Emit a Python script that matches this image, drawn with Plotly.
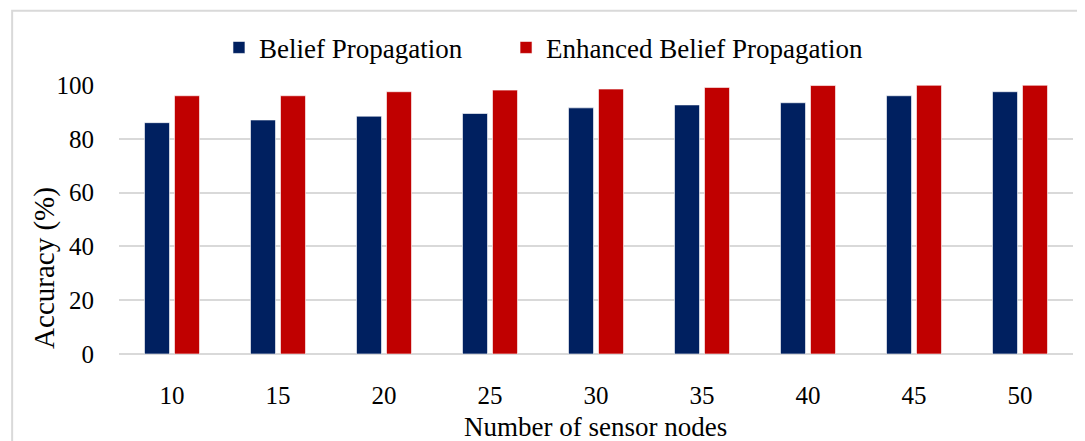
import plotly.graph_objects as go

categories = ["10", "15", "20", "25", "30", "35", "40", "45", "50"]
bp_values = [86, 87, 88.4, 89.4, 91.5, 92.6, 93.4, 96, 97.5]
ebp_values = [96, 96, 97.5, 98.1, 98.5, 99.1, 99.8, 99.9, 99.9]
series_names = ["Belief Propagation", "Enhanced Belief Propagation"]
colors = ["#002060", "#C00000"]
y_ticks = [0, 20, 40, 60, 80, 100]

font_family = "Liberation Serif, Times New Roman, serif"

fig = go.Figure()
for name, vals, col, lg in zip(series_names, [bp_values, ebp_values], colors, ["legend", "legend2"]):
    fig.add_trace(go.Bar(
        x=categories, y=vals, name=name, legend=lg,
        marker=dict(color=col, line=dict(color="rgba(255,255,255,0.6)", width=1)),
    ))

legend_common = dict(orientation="h", xanchor="left", y=1.138, yanchor="middle",
                     font=dict(size=27), itemwidth=30, bgcolor="rgba(0,0,0,0)")

# page body has an 8px margin, so the figure is sized/offset to compensate
fig.update_layout(
    width=1077, height=433,
    margin=dict(l=111, r=12, t=77, b=87),
    paper_bgcolor="white", plot_bgcolor="white",
    barmode="group", bargap=0.434, bargroupgap=0.167,
    font=dict(family=font_family, size=26, color="#000000"),
    showlegend=True,
    legend=dict(x=0.1048, **legend_common),
    legend2=dict(x=0.4057, **legend_common),
    xaxis=dict(type="category", showgrid=False, showline=False, ticks="",
               ticklabelstandoff=24, tickfont=dict(size=25)),
    yaxis=dict(range=[0, 100], tickvals=y_ticks, showgrid=True, gridcolor="#d9d9d9",
               gridwidth=1.5, zeroline=True, zerolinecolor="#d9d9d9", zerolinewidth=1.5,
               showline=False, ticks="", ticklabelstandoff=24, tickfont=dict(size=25)),
    shapes=[dict(type="rect", xref="paper", yref="paper", x0=-0.112, x1=1.05,
                 y0=-0.4, y1=1.276, line=dict(color="#d9d9d9", width=2),
                 fillcolor="rgba(0,0,0,0)", layer="below")],
    annotations=[
        dict(text="Accuracy (%)", xref="paper", yref="paper", x=-0.0776, y=0.32,
             textangle=-90, showarrow=False, xanchor="center", yanchor="middle",
             font=dict(size=29)),
        dict(text="Number of sensor nodes", xref="paper", yref="paper", x=0.499, y=-0.272,
             showarrow=False, xanchor="center", yanchor="middle", font=dict(size=27)),
    ],
)

fig.write_html("out.html")
